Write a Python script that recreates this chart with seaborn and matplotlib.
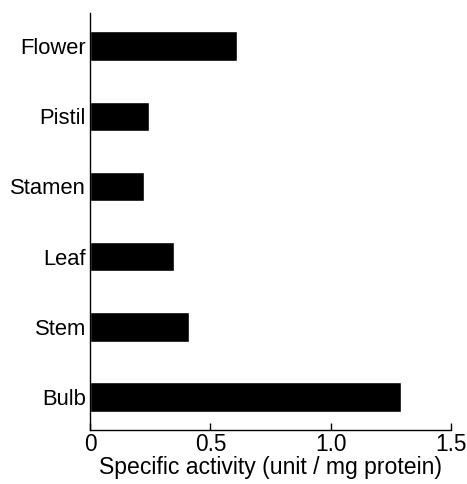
import pandas as pd
import seaborn as sns
import matplotlib.pyplot as plt

# data
tissues = ['Flower', 'Pistil', 'Stamen', 'Leaf', 'Stem', 'Bulb']
activity = [0.61, 0.245, 0.222, 0.35, 0.412, 1.292]

df = pd.DataFrame({'tissue': tissues, 'activity': activity})

sns.set_style('ticks', {'text.color': 'black', 'xtick.color': 'black',
                        'ytick.color': 'black', 'axes.labelcolor': 'black',
                        'axes.edgecolor': 'black'})
plt.rcParams['font.family'] = ['Liberation Sans', 'DejaVu Sans']

fig = plt.figure(figsize=(4.67, 4.84), dpi=100)
ax = fig.add_axes([0.193, 0.1116, 0.773, 0.8614])

sns.barplot(data=df, x='activity', y='tissue', orient='h', color='black',
            width=0.42, ax=ax)

ax.set_xlim(0, 1.5)
ax.set_ylim(5.47, -0.47)
ax.set_xticks([0, 0.5, 1.0, 1.5])
ax.set_xticklabels(['0', '0.5', '1.0', '1.5'])
ax.set_xlabel('Specific activity (unit / mg protein)', fontsize=16.6, labelpad=0)
ax.set_ylabel('')

ax.tick_params(axis='x', direction='in', length=5, width=1, labelsize=16.3, pad=2)
ax.tick_params(axis='y', length=0, labelsize=15.8, pad=3)

sns.despine(ax=ax, top=True, right=True)
for s in ['left', 'bottom']:
    ax.spines[s].set_linewidth(1)

fig.savefig('out.png', dpi=100)
